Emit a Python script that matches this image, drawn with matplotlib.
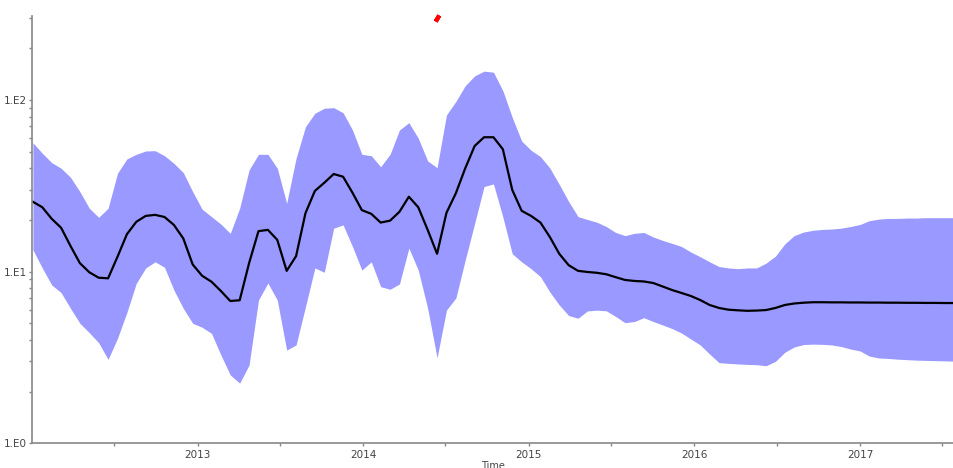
import numpy as np
import pandas as pd
import matplotlib
matplotlib.use("Agg")
import matplotlib.pyplot as plt
from matplotlib.ticker import LogLocator, FixedFormatter, FixedLocator, NullFormatter

# time grid: ~3 week steps from early 2012 to mid 2017
dates = pd.date_range("2012-01-03", "2017-07-27", periods=99)

mean_vals = [25.5, 23.7, 20.3, 18.0, 14.1, 11.2, 9.91, 9.21, 9.14, 12.2,
             16.5, 19.5, 21.1, 21.4, 20.8, 18.7, 15.6, 11.0, 9.46, 8.73,
             7.71, 6.74, 6.81, 11.2, 17.2, 17.5, 15.3, 10.1, 12.3, 21.9,
             29.5, 32.9, 37.0, 35.7, 28.8, 22.8, 21.7, 19.3, 19.8, 22.3,
             27.3, 23.7, 17.5, 12.7, 22.0, 28.6, 40.0, 53.9, 60.6, 60.6,
             51.6, 29.9, 22.6, 21.1, 19.3, 15.9, 12.7, 10.9, 10.1, 9.95,
             9.84, 9.65, 9.28, 8.94, 8.82, 8.76, 8.58, 8.19, 7.81, 7.51,
             7.21, 6.83, 6.39, 6.14, 6.00, 5.95, 5.91, 5.93, 5.97, 6.14,
             6.39, 6.52, 6.59, 6.63, 6.63, 6.62, 6.62, 6.61, 6.61, 6.60,
             6.60, 6.59, 6.59, 6.58, 6.58, 6.57, 6.57, 6.56, 6.56]

upper_vals = [56.3, 48.9, 43.1, 40.0, 35.4, 29.2, 23.4, 20.7, 23.4, 37.4,
              45.3, 48.2, 50.4, 50.6, 47.3, 42.7, 37.7, 29.2, 23.1, 20.9,
              18.9, 16.7, 23.4, 39.1, 48.2, 48.2, 40.0, 25.0, 45.7, 69.8,
              83.6, 89.4, 90.1, 84.2, 66.8, 48.2, 47.3, 40.8, 48.2, 66.8,
              73.7, 59.8, 44.1, 40.3, 81.7, 97.9, 121, 138, 147, 145,
              113, 79.0, 57.6, 50.9, 46.7, 40.1, 32.2, 25.6, 20.9, 20.1,
              19.4, 18.3, 16.9, 16.2, 16.7, 16.9, 15.9, 15.2, 14.6, 14.0,
              13.0, 12.2, 11.4, 10.7, 10.5, 10.4, 10.5, 10.5, 11.2, 12.3,
              14.5, 16.2, 17.0, 17.4, 17.6, 17.7, 17.9, 18.3, 18.8, 19.8,
              20.2, 20.4, 20.4, 20.5, 20.5, 20.6, 20.6, 20.6, 20.6]

lower_vals = [13.4, 10.5, 8.36, 7.54, 6.11, 5.00, 4.41, 3.85, 3.08, 4.09,
              5.79, 8.55, 10.5, 11.4, 10.6, 7.81, 6.11, 5.00, 4.74, 4.37,
              3.27, 2.50, 2.24, 2.86, 6.83, 8.58, 6.83, 3.49, 3.74, 6.25,
              10.5, 9.91, 17.9, 18.7, 14.0, 10.2, 11.4, 8.17, 7.89, 8.47,
              13.7, 10.2, 6.11, 3.15, 5.97, 7.02, 11.7, 19.1, 31.3, 32.4,
              20.8, 12.7, 11.4, 10.4, 9.34, 7.61, 6.39, 5.55, 5.35, 5.90,
              5.96, 5.91, 5.48, 5.04, 5.12, 5.39, 5.12, 4.89, 4.66, 4.39,
              4.05, 3.74, 3.31, 2.95, 2.92, 2.90, 2.88, 2.87, 2.83, 3.00,
              3.39, 3.64, 3.76, 3.78, 3.77, 3.74, 3.66, 3.54, 3.45, 3.22,
              3.14, 3.12, 3.09, 3.07, 3.05, 3.04, 3.03, 3.02, 3.01]

# stray red mark near the top edge
red_date = pd.Timestamp("2014-06-12")
red_val = 300

y_ticks = [1, 10, 100]
y_labels = ["1.E0", "1.E1", "1.E2"]
x_years = ["2013", "2014", "2015", "2016", "2017"]

fig = plt.figure(figsize=(9.54, 4.68), dpi=100)
ax = fig.add_axes([32 / 954, 1 - 443.3 / 468, 1 - 32 / 954, (443.3 - 16) / 468])

ax.fill_between(dates, lower_vals, upper_vals, color="#9999ff", linewidth=0)
ax.plot(dates, mean_vals, color="black", linewidth=1.6)
ax.plot([red_date], [red_val], marker=(2, 2, -30), color="red",
        markersize=5, markeredgewidth=3, clip_on=False)

ax.set_yscale("log")
ax.set_ylim(1, 308)
ax.set_xlim(pd.Timestamp("2012-01-01"), pd.Timestamp("2017-07-27"))

ax.yaxis.set_major_locator(FixedLocator(y_ticks))
ax.yaxis.set_major_formatter(FixedFormatter(y_labels))
ax.yaxis.set_minor_locator(LogLocator(base=10, subs=np.arange(2, 10)))
ax.yaxis.set_minor_formatter(NullFormatter())

ax.set_xticks([pd.Timestamp(y + "-01-01") for y in x_years])
ax.set_xticklabels(x_years)
ax.set_xticks([pd.Timestamp(y + "-07-01") for y in ["2012"] + x_years], minor=True)

for s in ["top", "right"]:
    ax.spines[s].set_visible(False)
for s in ["left", "bottom"]:
    ax.spines[s].set_color("#888888")
    ax.spines[s].set_linewidth(1.2)

ax.tick_params(which="both", colors="#888888", labelcolor="#444444",
               labelsize=7.5, direction="out", width=1)
ax.tick_params(which="major", length=2.5, pad=1)
ax.tick_params(which="minor", length=2)
ax.tick_params(axis="x", which="major", pad=2)

ax.set_xlabel("Time", fontsize=7, color="#444444", labelpad=1)

fig.savefig("out.png", dpi=100)
